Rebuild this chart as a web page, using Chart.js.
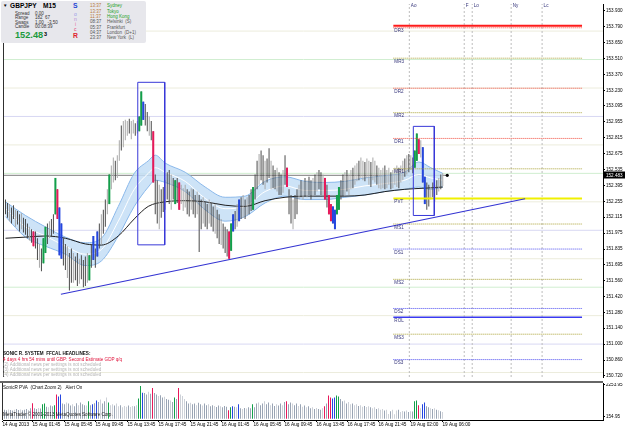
<!DOCTYPE html>
<html>
<head>
<meta charset="utf-8">
<title>GBPJPY M15</title>
<script src="https://cdn.jsdelivr.net/npm/chart.js@4.4.1/dist/chart.umd.min.js"></script>
<style>
    html, body { margin: 0; padding: 0; background: #fff; }
    body { position: relative; width: 625px; height: 429px; overflow: hidden; font-family: "Liberation Sans", Arial, sans-serif; }
    canvas { position: absolute; left: 0; }
    #priceChart { top: 0; }
    #volumeChart { top: 383px; }
    .sep { position: absolute; left: 0; top: 381px; width: 603px; height: 2px; background: #666; }
    .t { position: absolute; white-space: nowrap; line-height: 1; }
    #info { position: absolute; left: 1px; top: 1px; width: 145px; height: 42px; background: #e7e7ec; border-radius: 2px; }
    .s { font-size: 4.5px; color: #333; }
    .city { font-size: 4.5px; }
    .hl { font-size: 4.6px; }
</style>
</head>
<body>
<canvas id="priceChart" width="625" height="381"></canvas>
<div class="sep"></div>
<canvas id="volumeChart" width="625" height="46"></canvas>

<!-- info panel, top left -->
<div id="info"></div>
<span class="t" style="left:3px;top:4px;font-size:4.5px">▼</span>
<span class="t" style="left:10px;top:3px;font-size:6.6px;font-weight:bold">GBPJPY</span>
<span class="t" style="left:43px;top:3px;font-size:6.6px;font-weight:bold">M15</span>
<span class="t s" style="left:15px;top:12px">Spread</span><span class="t s" style="left:35px;top:12px">0.00</span>
<span class="t s" style="left:15px;top:16px">Range</span><span class="t s" style="left:35px;top:16px">182&nbsp;&nbsp;67</span>
<span class="t s" style="left:15px;top:20.5px">Swaps</span><span class="t s" style="left:35px;top:20.5px">1.00&nbsp;&nbsp;&nbsp;-3.50</span>
<span class="t s" style="left:15px;top:24.5px">Candle</span><span class="t s" style="left:35px;top:24.5px">00:08:39</span>
<span class="t" style="left:15px;top:31px;font-size:9.2px;font-weight:bold;color:#1c9a3c">152.48</span>
<span class="t" style="left:44px;top:32px;font-size:5.5px;font-weight:bold">3</span>
<span class="t" style="left:73px;top:3px;font-size:6.8px;font-weight:bold;color:#2244d4">S</span>
<span class="t" style="left:74px;top:11.5px;font-size:5px;color:#9a9ae6">o</span>
<span class="t" style="left:74px;top:17px;font-size:5px;color:#b487d6">n</span>
<span class="t" style="left:75px;top:22px;font-size:5px;color:#e674a6">i</span>
<span class="t" style="left:74px;top:27px;font-size:5px;color:#e2406e">c</span>
<span class="t" style="left:73px;top:33px;font-size:6.8px;font-weight:bold;color:#e01c2c">R</span>
<span class="t city" style="left:90px;top:4px;color:#b8783a">13:37</span><span class="t city" style="left:107px;top:4px;color:#22a024">Sydney</span>
<span class="t city" style="left:90px;top:9.5px;color:#b8783a">13:37</span><span class="t city" style="left:107px;top:9.5px;color:#22a024">Tokyo</span>
<span class="t city" style="left:90px;top:14.5px;color:#b8783a">11:37</span><span class="t city" style="left:107px;top:14.5px;color:#22a024">Hong Kong</span>
<span class="t city" style="left:90px;top:20px;color:#555">08:37</span><span class="t city" style="left:107px;top:20px;color:#555">Helsinki&nbsp;&nbsp;(S)</span>
<span class="t city" style="left:90px;top:25.5px;color:#555">05:37</span><span class="t city" style="left:107px;top:25.5px;color:#555">Frankfurt</span>
<span class="t city" style="left:90px;top:30.5px;color:#555">04:37</span><span class="t city" style="left:107px;top:30.5px;color:#555">London&nbsp;&nbsp;(D+1)</span>
<span class="t city" style="left:90px;top:36px;color:#555">23:37</span><span class="t city" style="left:107px;top:36px;color:#555">New York&nbsp;&nbsp;(L)</span>

<!-- news block, bottom left of the price panel -->
<span class="t hl" style="left:3px;top:352px;color:#111;font-weight:bold">SONIC R. SYSTEM&nbsp;&nbsp;FFCAL HEADLINES:</span>
<span class="t hl" style="left:3px;top:357.5px;color:#e0143c">4 days 4 hrs 54 mins until GBP: Second Estimate GDP q/q</span>
<span class="t hl" style="left:3px;top:363px;color:#b4b4b4">(2) Additional news per settings is not scheduled</span>
<span class="t hl" style="left:3px;top:368px;color:#b4b4b4">(3) Additional news per settings is not scheduled</span>
<span class="t hl" style="left:3px;top:372.5px;color:#b4b4b4">(4) Additional news per settings is not scheduled</span>

<span class="t hl" style="left:3px;top:386px;color:#111">SonicR PVA&nbsp;&nbsp;(Chart Zoom 2)&nbsp;&nbsp;&nbsp;Alert On</span>
<span class="t hl" style="left:3px;top:413px;color:#222">MetaTrader © 2001-2013 MetaQuotes Software Corp.</span>

<script>
// GBPJPY M15 with Sonic R dragon, pivots and PVA volume
// values, one entry per 15 minute bar

const barHigh = [
    152.27,152.24,152.23,152.20,152.22,152.18,152.17,152.14,152.15,152.11,
    152.10,152.06,152.03,152.01,151.99,151.99,151.93,151.88,151.84,151.93,
    152.03,152.06,152.08,152.10,152.14,152.46,152.36,152.20,152.06,151.93,
    151.88,151.86,151.80,151.84,151.80,151.77,151.80,151.75,151.78,151.74,
    151.77,151.80,151.78,151.88,151.95,151.84,151.99,152.06,152.14,152.18,
    152.27,152.36,152.49,152.57,152.64,152.61,152.66,152.79,152.92,152.96,
    152.97,152.96,152.98,152.96,152.97,152.94,152.96,153.00,153.22,153.13,
    153.11,153.04,153.00,152.96,152.87,152.49,152.44,152.40,152.36,152.38,
    152.44,152.51,152.53,152.49,152.46,152.44,152.46,152.42,152.40,152.37,
    152.40,152.36,152.34,152.37,152.36,152.31,152.34,152.31,152.27,152.29,
    152.25,152.23,152.27,152.24,152.21,152.23,152.18,152.14,152.10,152.06,
    152.03,152.01,151.99,152.06,152.14,152.17,152.23,152.27,152.29,152.31,
    152.27,152.29,152.31,152.36,152.38,152.49,152.61,152.67,152.70,152.66,
    152.61,152.63,152.72,152.61,152.57,152.53,152.55,152.51,152.49,152.53,
    152.66,152.55,152.36,152.31,152.27,152.31,152.36,152.40,152.44,152.43,
    152.46,152.44,152.47,152.44,152.46,152.49,152.51,152.53,152.51,152.49,
    152.46,152.40,152.31,152.23,152.21,152.18,152.31,152.38,152.44,152.49,
    152.51,152.53,152.49,152.53,152.55,152.57,152.59,152.61,152.64,152.61,
    152.60,152.63,152.61,152.60,152.64,152.61,152.57,152.55,152.53,152.55,
    152.57,152.53,152.55,152.51,152.53,152.55,152.57,152.55,152.57,152.61,
    152.63,152.66,152.67,152.66,152.64,152.70,152.85,152.80,152.79,152.73,
    152.47,152.42,152.40,152.38,152.42,152.40,152.44,152.46,152.49,152.50
];
const barLow = [
    152.14,152.11,152.08,152.06,152.10,152.03,152.05,151.99,152.01,151.98,
    151.96,151.93,151.91,151.89,151.86,151.84,151.74,151.67,151.64,151.71,
    151.80,151.88,151.93,151.94,151.97,152.14,152.10,151.78,151.75,151.69,
    151.65,151.58,151.47,151.54,151.54,151.56,151.51,151.53,151.57,151.50,
    151.51,151.54,151.56,151.67,151.74,151.67,151.77,151.84,151.88,151.97,
    152.03,152.14,152.23,152.36,152.42,152.44,152.46,152.61,152.70,152.73,
    152.79,152.83,152.85,152.80,152.85,152.83,152.85,152.87,152.92,152.97,
    152.92,152.87,152.83,152.79,152.42,152.14,152.06,152.01,152.11,152.16,
    152.18,152.27,152.23,152.18,152.27,152.23,152.24,152.18,152.23,152.17,
    152.20,152.14,152.12,152.18,152.14,152.11,152.14,151.81,152.01,152.06,
    152.03,152.01,152.06,152.03,151.99,151.97,151.93,151.88,151.87,151.84,
    151.80,151.77,151.75,151.82,151.99,152.01,152.03,152.08,152.10,152.11,
    152.10,152.13,152.14,152.17,152.18,152.27,152.36,152.40,152.44,152.40,
    152.36,152.42,152.46,152.36,152.37,152.36,152.34,152.31,152.31,152.33,
    152.40,152.38,152.14,152.06,152.01,152.10,152.14,152.27,152.29,152.27,
    152.30,152.29,152.31,152.27,152.30,152.31,152.34,152.36,152.31,152.30,
    152.27,152.20,152.14,152.08,152.06,152.01,152.14,152.18,152.27,152.30,
    152.31,152.34,152.31,152.36,152.37,152.40,152.43,152.44,152.46,152.44,
    152.43,152.46,152.40,152.38,152.44,152.42,152.40,152.37,152.36,152.37,
    152.36,152.37,152.40,152.36,152.37,152.40,152.38,152.37,152.42,152.44,
    152.47,152.49,152.51,152.53,152.50,152.55,152.61,152.67,152.64,152.42,
    152.23,152.18,152.21,152.27,152.29,152.25,152.31,152.34,152.36,152.39
];
// PVA class per bar: d dark, l light, G green, R red, B blue
const pvaKind =
    'ddlddlddldddldRddldG' + 'GdlddGRBBddlddlddldd' + 'dlGdBdBdlddlGlldlldl' +
    'lldlldlGGBddldRddldd' + 'lddldGdRlllddlddlddl' + 'ddlddlddldddRGBdlBdl' +
    'dlddGddlddlddlddlddl' + 'dRddlddldldlddldlddl' + 'RdRRBBGGddldlldlldll' +
    'dlldlldllldlldllldll' + 'dldldGGRlBBddldldldl';
const volume = [
    600, 560, 620, 580, 540, 600, 650, 580, 620, 560, 600, 640, 580, 700, 1020, 700, 650, 720, 680, 950,
    1000, 800, 760, 880, 820, 900, 1590, 1460, 1590, 1000, 950, 1080, 1000, 880, 950, 820, 1020, 900, 1080, 960,
    900, 880, 1150, 900, 950, 1020, 1210, 1100, 1270, 1000, 1150, 1400, 1080, 900, 950, 880, 1000, 820, 900, 760,
    850, 800, 880, 780, 850, 820, 900, 1330, 2160, 1720, 1700, 1600, 1780, 1650, 2030, 1700, 1600, 1500, 1550, 1400,
    1450, 1300, 1250, 1200, 1100, 1400, 1300, 2030, 1600, 1500, 1300, 1150, 1000, 1050, 950, 1000, 900, 1050, 950, 880,
    1000, 900, 950, 820, 900, 850, 780, 880, 820, 760, 850, 800, 570, 760, 830, 800, 760, 950, 700, 650,
    720, 680, 760, 700, 950, 760, 1000, 1080, 900, 1000, 1150, 950, 1080, 900, 1000, 850, 950, 880, 1000, 900,
    1100, 1150, 950, 1080, 1000, 900, 1000, 850, 950, 800, 880, 760, 820, 700, 760, 650, 720, 650, 600, 700,
    830, 1000, 1530, 1400, 1340, 1400, 1530, 1460, 1300, 1150, 1200, 1000, 1100, 950, 1000, 900, 950, 850, 900, 800,
    850, 780, 830, 760, 700, 760, 640, 700, 600, 650, 550, 600, 320, 500, 600, 300, 550, 600, 450, 520,
    480, 550, 450, 500, 480, 1150, 1210, 890, 700, 950, 1080, 830, 760, 700, 640, 700, 600, 570, 500, 450
];

// dragon band (EMA 34 high / low / close) and the slow EMA, read at a few bars
const bandIdx   = [0, 10, 20, 30, 40, 48, 56.5, 64.5, 71.5, 75, 80, 90, 100, 110, 120, 130, 140, 150, 160, 170, 180, 190, 200, 207, 213, 219];
const bandUpper = [152.25, 152.13, 152.03, 151.94, 151.89, 151.93, 152.21, 152.50, 152.61, 152.66, 152.59, 152.51, 152.38, 152.29, 152.30, 152.43, 152.47, 152.43, 152.42, 152.43, 152.46, 152.48, 152.51, 152.60, 152.55, 152.50];
const bandLower = [152.12, 151.94, 151.86, 151.79, 151.69, 151.73, 151.95, 152.21, 152.38, 152.44, 152.42, 152.34, 152.18, 152.08, 152.12, 152.24, 152.30, 152.27, 152.27, 152.29, 152.31, 152.34, 152.36, 152.38, 152.36, 152.38];
const bandMid   = [152.19, 152.03, 151.95, 151.86, 151.79, 151.83, 152.08, 152.36, 152.50, 152.55, 152.51, 152.43, 152.28, 152.19, 152.21, 152.34, 152.39, 152.35, 152.35, 152.36, 152.39, 152.41, 152.44, 152.49, 152.46, 152.44];
const slowIdx = [0, 10, 20, 30, 40, 48, 56.5, 64.5, 71.5, 80, 90, 100, 110, 120, 130, 140, 150, 160, 170, 180, 190, 200, 210, 219];
const slowMa  = [151.93, 151.94, 151.95, 151.93, 151.88, 151.87, 151.95, 152.10, 152.21, 152.25, 152.26, 152.25, 152.22, 152.21, 152.26, 152.29, 152.30, 152.30, 152.30, 152.31, 152.34, 152.36, 152.37, 152.38];

// daily pivots drawn on the right
const pivotNames  = ['DR3', 'MR3', 'DR2', 'MR2', 'DR1', 'MR1', 'PVT', 'MS1', 'DS1', 'MS2', 'DS2', 'ROL', 'MS3', 'DS3'];
const pivotLevels = [153.779, 153.512, 153.248, 153.033, 152.807, 152.540, 152.279, 152.055, 151.835, 151.569, 151.313, 151.236, 151.087, 150.864];
const rangeHigh = 153.796;
const pivotFrom = 194.25;
const pivotTo = 288.75;

const quarterLevels = [153.75, 153.50, 153.25, 153.00, 152.75, 152.50, 152.25, 152.00, 151.75, 151.50, 151.25, 151.00, 150.75];
const sessionIdx = [202.25, 229.75, 233.75, 253.25, 268.75];
const sessionNames = ['Ao', 'F', 'Lo', 'Ny', 'Lc'];

const trendIdx = [27.75, 260.25];
const trendPrice = [151.438, 152.277];
// [from bar, to bar, top, bottom]
const boxes = [[66.25, 79.75, 153.300, 151.872], [204.25, 214.75, 152.913, 152.130]];

const lastPrice = 152.483;
const lastIdx = 221.25;

const priceTicks = [153.930, 153.790, 153.650, 153.510, 153.370, 153.230, 153.095, 152.955, 152.815, 152.675, 152.535, 152.395,
                    152.255, 152.115, 151.975, 151.835, 151.695, 151.560, 151.420, 151.280, 151.140, 151.000, 150.860, 150.720];
const volumeTicks = [2253.95, 154.95];
const dateTicks = [-1, 14, 30, 45.5, 61.5, 77, 93, 108.5, 124.5, 140, 156, 171.5, 187, 203, 219];
const dateLabels = ['14 Aug 2013', '15 Aug 01:45', '15 Aug 05:45', '15 Aug 09:45', '15 Aug 13:45', '15 Aug 17:45', '15 Aug 21:45',
                    '16 Aug 01:45', '16 Aug 05:45', '16 Aug 09:45', '16 Aug 13:45', '16 Aug 17:45', '16 Aug 21:45', '19 Aug 02:00', '19 Aug 06:00'];

const X_MIN = -0.75;
const X_MAX = 299.25;
const FONT = 'Liberation Sans';

const priceColors = { d: '#4a4a4a', l: '#a8a8a8', G: '#12a04a', R: '#e8185a', B: '#2446e0' };
const volumeColors = { d: '#99a4b4', l: '#cdd1d8', G: '#12a04a', R: '#e8185a', B: '#2446e0' };

document.addEventListener('DOMContentLoaded', function() {
    initPriceChart();
    initVolumeChart();
});

function levelColor(v) {
    const f = Math.round((v % 1) * 100);
    if (f === 0) return '#d8d8f3';
    if (f === 50) return '#d0eed0';
    return '#ececdc';
}

function pivotStyle(name) {
    if (name === 'PVT') return { color: '#f0f000', width: 2, dash: [] };
    if (name === 'ROL') return { color: '#3a3af0', width: 1.5, dash: [] };
    if (name[0] === 'M') return { color: '#a8a032', width: 1, dash: [1, 1] };
    if (name[1] === 'R') return { color: '#f04a3a', width: 1, dash: [1, 1] };
    return { color: '#4a4af0', width: 1, dash: [1, 1] };
}

function hLine(y, x0, x1, color, width, dash, order) {
    return {
        type: 'line',
        data: [{ x: x0, y: y }, { x: x1, y: y }],
        borderColor: color,
        borderWidth: width,
        borderDash: dash || [],
        pointRadius: 0,
        order: order
    };
}

// left frame, pivot names, session names and the last price tag
const priceOverlay = {
    id: 'priceOverlay',
    afterDraw(chart) {
        const { ctx, chartArea: a, scales: { x, y } } = chart;
        ctx.save();
        ctx.strokeStyle = '#303030';
        ctx.lineWidth = 1;
        ctx.beginPath();
        ctx.moveTo(a.left - 0.5, a.top);
        ctx.lineTo(a.left - 0.5, a.bottom);
        ctx.stroke();

        ctx.font = '4.6px "' + FONT + '"';
        ctx.fillStyle = '#34347a';
        ctx.textBaseline = 'top';
        const lx = x.getPixelForValue(pivotFrom) + 1;
        pivotNames.forEach(function(n, k) {
            ctx.fillText(n, lx, y.getPixelForValue(pivotLevels[k]) + 1);
        });
        sessionNames.forEach(function(n, k) {
            ctx.fillText(n, x.getPixelForValue(sessionIdx[k]) + 1.5, 3);
        });

        const py = Math.round(y.getPixelForValue(lastPrice));
        ctx.fillStyle = '#000';
        ctx.fillRect(a.right + 1, py - 3.5, 21, 7);
        ctx.fillStyle = '#fff';
        ctx.textBaseline = 'middle';
        ctx.fillText(lastPrice.toFixed(3), a.right + 3, py + 0.5);
        ctx.restore();
    }
};

const leftFrame = {
    id: 'leftFrame',
    afterDraw(chart) {
        const { ctx, chartArea: a } = chart;
        ctx.save();
        ctx.strokeStyle = '#303030';
        ctx.lineWidth = 1;
        ctx.beginPath();
        ctx.moveTo(a.left - 0.5, a.top);
        ctx.lineTo(a.left - 0.5, a.bottom);
        ctx.stroke();
        ctx.restore();
    }
};

function initPriceChart() {
    const ctx = document.getElementById('priceChart');
    const datasets = [];

    quarterLevels.forEach(function(v) {
        datasets.push(hLine(v, X_MIN, X_MAX, levelColor(v), 1, [], 30));
    });
    datasets.push(hLine(lastPrice, X_MIN, lastIdx, '#7c7c7c', 1, [], 29));

    sessionIdx.forEach(function(s) {
        datasets.push({
            type: 'line',
            data: [{ x: s, y: 150.711 }, { x: s, y: 153.99 }],
            borderColor: '#bdbdbd', borderWidth: 1, borderDash: [2, 2],
            pointRadius: 0, order: 28
        });
    });

    // dragon band
    datasets.push({
        type: 'line', label: 'band high',
        data: bandIdx.map((v, i) => ({ x: v, y: bandUpper[i] })),
        borderColor: '#8ab8ea', borderWidth: 1, backgroundColor: 'rgba(196,222,246,0.85)',
        fill: '+1', pointRadius: 0, cubicInterpolationMode: 'monotone', order: 16
    });
    datasets.push({
        type: 'line', label: 'band low',
        data: bandIdx.map((v, i) => ({ x: v, y: bandLower[i] })),
        borderColor: '#8ab8ea', borderWidth: 1, fill: false,
        pointRadius: 0, cubicInterpolationMode: 'monotone', order: 15
    });
    datasets.push({
        type: 'line', label: 'band close',
        data: bandIdx.map((v, i) => ({ x: v, y: bandMid[i] })),
        borderColor: '#ffffff', borderWidth: 1, fill: false,
        pointRadius: 0, cubicInterpolationMode: 'monotone', order: 14
    });
    datasets.push({
        type: 'line', label: 'slow ema',
        data: slowIdx.map((v, i) => ({ x: v, y: slowMa[i] })),
        borderColor: '#1e1e1e', borderWidth: 1, fill: false,
        pointRadius: 0, cubicInterpolationMode: 'monotone', order: 13
    });

    // price bars
    const kinds = pvaKind.split('');
    datasets.push({
        type: 'bar', label: 'bars',
        data: barHigh.map((h, i) => ({ x: i, y: [barLow[i], h] })),
        backgroundColor: kinds.map(k => priceColors[k === 'l' ? 'l' : 'd']),
        barThickness: 1, grouped: false, borderWidth: 0, inflateAmount: 0, order: 10
    });
    const colored = [];
    kinds.forEach(function(k, i) {
        if (k === 'G' || k === 'R' || k === 'B') colored.push(i);
    });
    datasets.push({
        type: 'bar', label: 'pva bars',
        data: colored.map(i => ({ x: i, y: [barLow[i], barHigh[i]] })),
        backgroundColor: colored.map(i => priceColors[kinds[i]]),
        barThickness: 2, grouped: false, borderWidth: 0, inflateAmount: 0, order: 9
    });

    // pivots
    datasets.push(hLine(rangeHigh, pivotFrom, pivotTo, '#ff1a1a', 2, [], 8));
    pivotNames.forEach(function(n, k) {
        const st = pivotStyle(n);
        datasets.push(hLine(pivotLevels[k], pivotFrom, pivotTo, st.color, st.width, st.dash, 8));
    });

    datasets.push({
        type: 'line', label: 'trend',
        data: trendIdx.map((v, i) => ({ x: v, y: trendPrice[i] })),
        borderColor: '#3434d2', borderWidth: 1.2, pointRadius: 0, order: 3
    });
    boxes.forEach(function(b) {
        datasets.push({
            type: 'line',
            data: [{ x: b[0], y: b[2] }, { x: b[1], y: b[2] }, { x: b[1], y: b[3] }, { x: b[0], y: b[3] }, { x: b[0], y: b[2] }],
            borderColor: '#3838d8', borderWidth: 1, pointRadius: 0, order: 2
        });
    });
    datasets.push({
        type: 'line', label: 'last',
        data: [{ x: lastIdx, y: lastPrice }],
        showLine: false, pointRadius: 1.6, pointBackgroundColor: '#000', pointBorderWidth: 0, order: 1
    });

    const chart = new Chart(ctx, {
        type: 'bar',
        data: { datasets: datasets },
        options: {
            responsive: false,
            animation: false,
            events: [],
            layout: { padding: { left: 3, right: 0, top: 0, bottom: 0 } },
            plugins: { legend: { display: false }, tooltip: { enabled: false } },
            scales: {
                x: { type: 'linear', display: false, offset: false, min: X_MIN, max: X_MAX },
                y: {
                    position: 'right',
                    min: 150.711,
                    max: 153.988,
                    afterBuildTicks: function(axis) {
                        axis.ticks = priceTicks.map(v => ({ value: v }));
                    },
                    afterFit: function(axis) {
                        axis.width = 22;
                        axis.paddingTop = 0;
                        axis.paddingBottom = 0;
                    },
                    ticks: {
                        autoSkip: false,
                        padding: 1,
                        color: '#000',
                        font: { family: FONT, size: 4.6 },
                        callback: v => Number(v).toFixed(3)
                    },
                    grid: { drawOnChartArea: false, tickLength: 2, color: '#000' },
                    border: { color: '#000', width: 1 }
                }
            }
        },
        plugins: [priceOverlay]
    });

    window.priceChart = chart;
}

function initVolumeChart() {
    const ctx = document.getElementById('volumeChart');
    const kinds = pvaKind.split('');

    const chart = new Chart(ctx, {
        type: 'bar',
        data: {
            datasets: [{
                label: 'PVA',
                data: volume.map((v, i) => ({ x: i, y: v })),
                backgroundColor: kinds.map(k => volumeColors[k]),
                barThickness: 1, borderWidth: 0, inflateAmount: 0
            }]
        },
        options: {
            responsive: false,
            animation: false,
            events: [],
            layout: { padding: { left: 3, right: 0, top: 0, bottom: 0 } },
            plugins: { legend: { display: false }, tooltip: { enabled: false } },
            scales: {
                x: {
                    type: 'linear',
                    offset: false,
                    min: X_MIN,
                    max: X_MAX,
                    afterBuildTicks: function(axis) {
                        axis.ticks = dateTicks.map(v => ({ value: v }));
                    },
                    afterFit: function(axis) {
                        axis.height = 9;
                        axis.paddingLeft = 0;
                        axis.paddingRight = 0;
                    },
                    ticks: {
                        autoSkip: false,
                        maxRotation: 0,
                        align: 'start',
                        padding: 0,
                        color: '#000',
                        font: { family: FONT, size: 4.7 },
                        callback: (v, k) => dateLabels[k]
                    },
                    grid: { drawOnChartArea: false, offset: false, tickLength: 2, color: '#000' },
                    border: { color: '#000', width: 1 }
                },
                y: {
                    position: 'right',
                    min: -75,
                    max: 2352,
                    afterBuildTicks: function(axis) {
                        axis.ticks = volumeTicks.map(v => ({ value: v }));
                    },
                    afterFit: function(axis) {
                        axis.width = 22;
                        axis.paddingTop = 0;
                        axis.paddingBottom = 0;
                    },
                    ticks: {
                        autoSkip: false,
                        padding: 1,
                        color: '#000',
                        font: { family: FONT, size: 4.6 },
                        callback: v => Number(v).toFixed(2)
                    },
                    grid: { drawOnChartArea: false, tickLength: 2, color: '#000' },
                    border: { color: '#000', width: 1 }
                }
            }
        },
        plugins: [leftFrame]
    });

    window.volumeChart = chart;
}
</script>
</body>
</html>
